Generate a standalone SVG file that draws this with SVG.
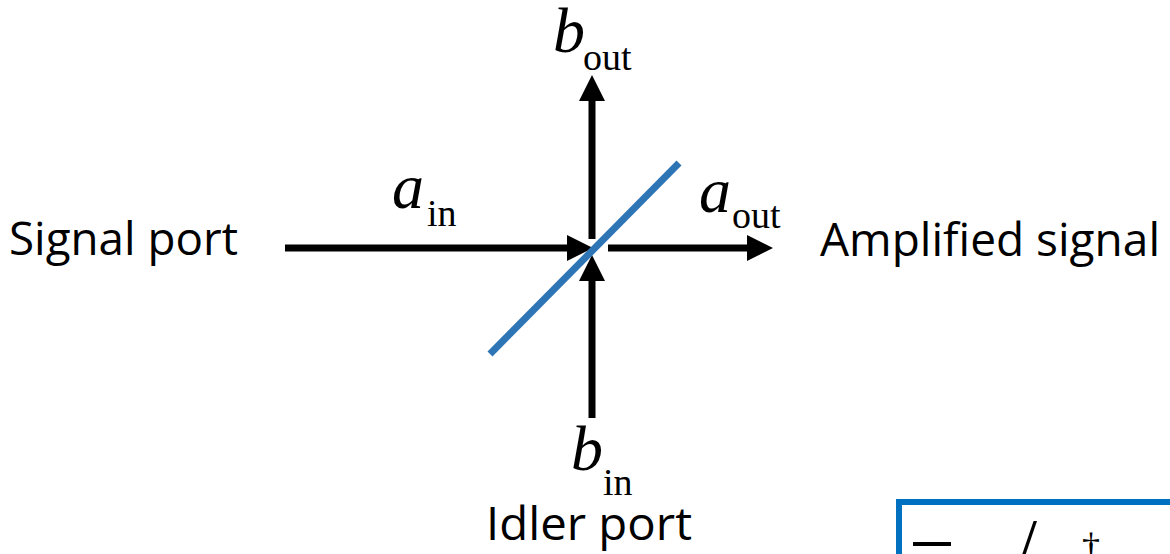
<svg xmlns="http://www.w3.org/2000/svg" width="1170" height="554" viewBox="0 0 1170 554">
  <style>
    .port { font-family: "Open Sans", "Liberation Sans", sans-serif; font-size: 45px; fill: #000; }
    .var { font-family: "Liberation Serif", "Times New Roman", serif; font-style: italic; font-size: 64px; fill: #000; }
    .sub { font-family: "Liberation Serif", "Times New Roman", serif; font-size: 38px; fill: #000; }
    .arrow { stroke: #000; stroke-width: 7; fill: none; marker-end: url(#head); }
    .splitter { stroke: #2E75B6; stroke-width: 7; fill: none; }
  </style>
  <defs>
    <marker id="head" markerUnits="userSpaceOnUse" markerWidth="26" markerHeight="26" viewBox="0 0 24 24" refX="0" refY="12" orient="auto">
      <path d="M0,0 L24,12 L0,24 Z" fill="#000"/>
    </marker>
  </defs>
  <rect width="1170" height="554" fill="#fff"/>

  <g id="connectors">
    <line class="arrow" x1="285" y1="248" x2="567" y2="248"/>
    <line class="arrow" x1="608" y1="248" x2="747" y2="248"/>
    <line class="arrow" x1="592" y1="239" x2="592" y2="101"/>
    <line class="arrow" x1="592" y1="418" x2="592" y2="281"/>
  </g>

  <g id="beam-splitter">
    <line class="splitter" x1="490" y1="354" x2="679" y2="163"/>
  </g>

  <g id="signal-port">
    <text class="port" x="9" y="255" textLength="229" lengthAdjust="spacingAndGlyphs">Signal port</text>
  </g>
  <g id="amplified-signal">
    <text class="port" x="820" y="256" textLength="340" lengthAdjust="spacingAndGlyphs">Amplified signal</text>
  </g>
  <g id="idler-port">
    <text class="port" x="486" y="540" textLength="206" lengthAdjust="spacingAndGlyphs">Idler port</text>
  </g>

  <g id="label-a-in">
    <text class="var" x="392" y="208">a</text>
    <text class="sub" x="427" y="226">in</text>
  </g>
  <g id="label-a-out">
    <text class="var" x="699" y="212">a</text>
    <text class="sub" x="732" y="228">out</text>
  </g>
  <g id="label-b-out">
    <text class="var" x="553" y="52">b</text>
    <text class="sub" x="583" y="70">out</text>
  </g>
  <g id="label-b-in">
    <text class="var" x="571" y="470">b</text>
    <text class="sub" x="603" y="495">in</text>
  </g>

  <g id="equation-box">
    <rect x="899" y="502" width="300" height="120" fill="#fff" stroke="#0070C0" stroke-width="6"/>
    <rect x="913" y="542" width="38" height="4" fill="#000"/>
    <text x="1017" y="568" font-family="Liberation Serif, serif" font-size="72" fill="#000">/</text>
    <text x="1082" y="558" font-family="Liberation Serif, serif" font-size="36" fill="#000">†</text>
  </g>
</svg>
